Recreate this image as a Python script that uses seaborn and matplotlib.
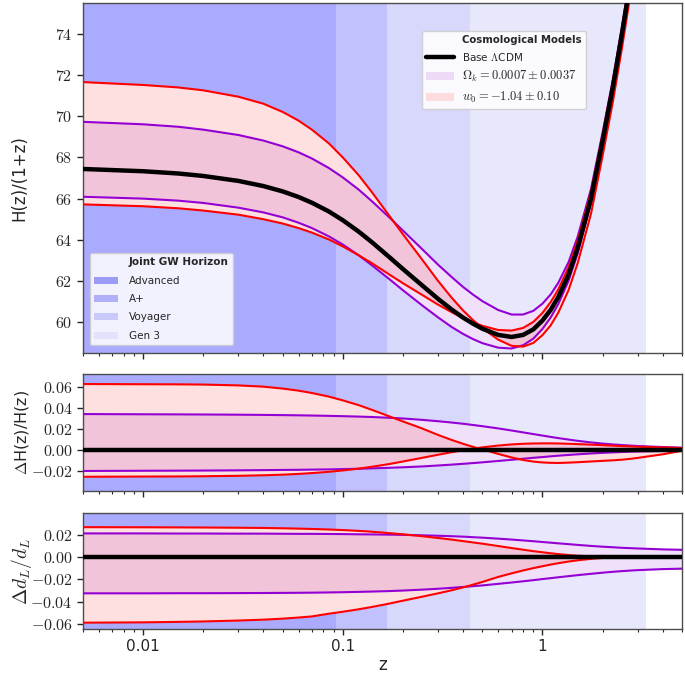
import numpy as np
import matplotlib
matplotlib.use("Agg")
import matplotlib.pyplot as plt
import seaborn as sns
from matplotlib.patches import Patch
from matplotlib.lines import Line2D
from matplotlib.ticker import FuncFormatter, LogLocator, FixedLocator, NullFormatter

# redshift grid the curves were read on
z = [0.005, 0.01, 0.015, 0.02, 0.03, 0.04, 0.05, 0.06, 0.07, 0.085, 0.1, 0.12, 0.14, 0.17, 0.2,
     0.25, 0.3, 0.35, 0.4, 0.45, 0.5, 0.6, 0.7, 0.8, 0.9, 1.0, 1.1, 1.2, 1.35, 1.5, 1.75, 2.0,
     2.25, 2.5, 2.75, 3.0, 4.0, 5.0]

# H(z)/(1+z)
h_lcdm = [67.44, 67.33, 67.22, 67.10, 66.86, 66.61, 66.35, 66.08, 65.80, 65.38, 64.95, 64.40, 63.88,
          63.18, 62.58, 61.78, 61.13, 60.62, 60.22, 59.92, 59.68, 59.38, 59.28, 59.38, 59.65, 60.08,
          60.6, 61.22, 62.3, 63.6, 66.0, 68.8, 71.4, 74.0, 76.5, 79.0, 89.0, 99.0]
h_w0_hi = [71.66, 71.52, 71.40, 71.26, 70.95, 70.61, 70.21, 69.79, 69.35, 68.69, 68.00, 67.14, 66.31,
           65.20, 64.27, 63.03, 62.00, 61.20, 60.57, 60.09, 59.71, 59.15, 58.85, 58.81, 58.99, 59.37,
           59.85, 60.46, 61.55, 62.86, 65.27, 68.08, 70.69, 73.31, 75.85, 78.40, 88.63, 98.92]
h_w0_lo = [65.72, 65.63, 65.53, 65.42, 65.22, 65.00, 64.79, 64.57, 64.35, 64.02, 63.68, 63.25, 62.86,
           62.33, 61.89, 61.32, 60.85, 60.49, 60.20, 59.99, 59.82, 59.62, 59.59, 59.72, 60.01, 60.45,
           60.98, 61.59, 62.66, 63.95, 66.33, 69.11, 71.69, 74.27, 76.75, 79.24, 89.20, 99.18]
h_ok_hi = [69.73, 69.61, 69.49, 69.35, 69.09, 68.82, 68.54, 68.25, 67.95, 67.49, 67.03, 66.44, 65.87,
           65.11, 64.45, 63.54, 62.79, 62.20, 61.71, 61.33, 61.02, 60.59, 60.37, 60.37, 60.55, 60.90,
           61.35, 61.91, 62.91, 64.15, 66.47, 69.21, 71.77, 74.34, 76.81, 79.29, 89.24, 99.21]
h_ok_lo = [66.09, 66.00, 65.90, 65.79, 65.56, 65.33, 65.09, 64.83, 64.57, 64.17, 63.77, 63.25, 62.76,
           62.11, 61.55, 60.81, 60.23, 59.77, 59.43, 59.17, 58.98, 58.76, 58.72, 58.88, 59.20, 59.67,
           60.23, 60.88, 62.00, 63.33, 65.78, 68.61, 71.23, 73.85, 76.37, 78.88, 88.91, 98.93]

# Delta H / H
dh_w0_hi = [0.0625, 0.0623, 0.0622, 0.062, 0.0612, 0.060, 0.0582, 0.0562, 0.054, 0.0506, 0.047, 0.0425,
            0.038, 0.032, 0.027, 0.0203, 0.0142, 0.0095, 0.0058, 0.0028, 0.0005, -0.0038, -0.0072,
            -0.0096, -0.0111, -0.0119, -0.0123, -0.0124, -0.0121, -0.0117, -0.011, -0.0104, -0.0099,
            -0.0093, -0.0085, -0.0076, -0.0042, -0.0008]
dh_w0_lo = [-0.0255, -0.0253, -0.0252, -0.025, -0.0246, -0.0241, -0.0235, -0.0228, -0.022, -0.0208,
            -0.0195, -0.0178, -0.016, -0.0135, -0.011, -0.0075, -0.0046, -0.0022, -0.0003, 0.0012,
            0.0024, 0.0041, 0.0052, 0.0058, 0.0061, 0.0062, 0.0062, 0.0061, 0.0058, 0.0055, 0.005,
            0.0045, 0.004, 0.0036, 0.0033, 0.003, 0.0023, 0.0018]
dh_ok_hi = [0.034, 0.0338, 0.0337, 0.0336, 0.0334, 0.0332, 0.033, 0.0328, 0.0326, 0.0323, 0.032, 0.0316,
            0.0312, 0.0305, 0.0298, 0.0285, 0.0272, 0.026, 0.0248, 0.0236, 0.0225, 0.0204, 0.0184,
            0.0166, 0.015, 0.0136, 0.0123, 0.0112, 0.0098, 0.0086, 0.0071, 0.006, 0.0052, 0.0046,
            0.0041, 0.0037, 0.0027, 0.0021]
dh_ok_lo = [-0.020, -0.0198, -0.0197, -0.0196, -0.0194, -0.0192, -0.019, -0.0189, -0.0187, -0.0185,
            -0.0182, -0.0179, -0.0175, -0.017, -0.0165, -0.0157, -0.0148, -0.014, -0.0132, -0.0125,
            -0.0118, -0.0105, -0.0094, -0.0084, -0.0075, -0.0068, -0.0061, -0.0055, -0.0048, -0.0042,
            -0.0034, -0.0028, -0.0024, -0.002, -0.0017, -0.0015, -0.001, -0.0007]

# Delta d_L / d_L
dd_w0_hi = [0.0268, 0.0267, 0.0266, 0.0265, 0.0263, 0.0261, 0.0258, 0.0255, 0.0252, 0.0247, 0.0242,
            0.0235, 0.0227, 0.0215, 0.0204, 0.0187, 0.0171, 0.0157, 0.0143, 0.0131, 0.012, 0.0099,
            0.0081, 0.0066, 0.0053, 0.0043, 0.0034, 0.0027, 0.0018, 0.0012, 0.0006, 0.0003, 0.0001,
            0.0, 0.0, 0.0, 0.0, 0.0]
dd_w0_lo = [-0.0588, -0.0585, -0.0581, -0.0577, -0.0569, -0.0561, -0.0552, -0.0542, -0.0532, -0.0508,
            -0.049, -0.0468, -0.0447, -0.0418, -0.0391, -0.0355, -0.0325, -0.0298, -0.0272, -0.0247,
            -0.0223, -0.0178, -0.0146, -0.012, -0.0099, -0.0082, -0.0067, -0.0055, -0.004, -0.0029,
            -0.0016, -0.0008, -0.0003, 0.0, 0.0001, 0.0001, 0.0001, 0.0]
dd_ok_hi = [0.0212, 0.0212, 0.0211, 0.0211, 0.021, 0.021, 0.0209, 0.0208, 0.0208, 0.0207, 0.0206,
            0.0204, 0.0203, 0.0201, 0.0199, 0.0195, 0.0191, 0.0187, 0.0183, 0.0178, 0.0174, 0.0165,
            0.0157, 0.0149, 0.0142, 0.0135, 0.0129, 0.0123, 0.0116, 0.0109, 0.01, 0.0093, 0.0088,
            0.0083, 0.008, 0.0077, 0.0069, 0.0065]
dd_ok_lo = [-0.0325, -0.0325, -0.0324, -0.0324, -0.0323, -0.0322, -0.0321, -0.032, -0.0319, -0.0317,
            -0.0315, -0.0312, -0.0309, -0.0305, -0.03, -0.0292, -0.0284, -0.0276, -0.0268, -0.0261,
            -0.0254, -0.024, -0.0228, -0.0217, -0.0207, -0.0197, -0.0189, -0.0181, -0.0171, -0.0162,
            -0.015, -0.014, -0.0132, -0.0126, -0.0121, -0.0117, -0.0108, -0.0104]

# detector reach (max redshift) and shading
detectors = ["Advanced", "A+", "Voyager", "Gen 3"]
det_zmax = [0.092, 0.166, 0.436, 3.3]
det_colors = ["#aaaaff", "#c1c1fd", "#d8d8fc", "#e8e8fd"]
det_legend_colors = ["#9c9cf6", "#b0b0f8", "#cacafa", "#e2e2fb"]

Z_MIN, Z_MAX = 0.005, 5.0

sns.set_style("ticks")
plt.rcParams["font.family"] = ["DejaVu Sans"]
plt.rcParams["mathtext.fontset"] = "cm"

fig = plt.figure(figsize=(6.85, 6.75), dpi=100)
ax_h = fig.add_axes([0.1212, 0.4770, 0.8745, 0.5185])
ax_dh = fig.add_axes([0.1212, 0.2726, 0.8745, 0.1733])
ax_dd = fig.add_axes([0.1212, 0.0681, 0.8745, 0.1719])

RED = "#ff0000"
PURPLE = "#9400d3"


def draw_panel(ax, base, w0_hi, w0_lo, ok_hi, ok_lo):
    lo = Z_MIN
    for zmax, c in zip(det_zmax, det_colors):
        ax.axvspan(lo, zmax, color=c, lw=0, zorder=0)
        lo = zmax
    zz = np.array(z)
    ax.fill_between(zz, ok_lo, ok_hi, color="white", lw=0, zorder=1)
    ax.fill_between(zz, w0_lo, w0_hi, color="white", lw=0, zorder=1)
    ax.fill_between(zz, ok_lo, ok_hi, color=PURPLE, alpha=0.12, lw=0, zorder=2)
    ax.fill_between(zz, w0_lo, w0_hi, color=RED, alpha=0.12, lw=0, zorder=2)
    for y, c in [(ok_hi, PURPLE), (ok_lo, PURPLE), (w0_hi, RED), (w0_lo, RED)]:
        sns.lineplot(x=z, y=y, ax=ax, color=c, lw=1.5, zorder=3)
    sns.lineplot(x=z, y=base, ax=ax, color="black", lw=3.2, zorder=4)
    ax.set_xscale("log")
    ax.set_xlim(Z_MIN, Z_MAX)
    ax.xaxis.set_major_locator(LogLocator(base=10))
    ax.xaxis.set_minor_locator(LogLocator(base=10, subs=np.arange(2, 10)))
    ax.xaxis.set_minor_formatter(NullFormatter())
    ax.tick_params(axis="both", which="major", direction="out", length=4, width=1, labelsize=11.5)
    ax.tick_params(axis="x", which="minor", direction="out", length=2.5, width=0.8)
    for s in ax.spines.values():
        s.set_color("#4d4d4d")
        s.set_linewidth(1.0)


zero = [0.0] * len(z)
draw_panel(ax_h, h_lcdm, h_w0_hi, h_w0_lo, h_ok_hi, h_ok_lo)
draw_panel(ax_dh, zero, dh_w0_hi, dh_w0_lo, dh_ok_hi, dh_ok_lo)
draw_panel(ax_dd, zero, dd_w0_hi, dd_w0_lo, dd_ok_hi, dd_ok_lo)

ax_h.set_ylim(58.5, 75.5)
ax_h.yaxis.set_major_locator(FixedLocator([60, 62, 64, 66, 68, 70, 72, 74]))
ax_h.yaxis.set_major_formatter(FuncFormatter(lambda v, p: f"${v:.0f}$"))
ax_h.set_ylabel("H(z)/(1+z)", fontsize=12, labelpad=19)

ax_dh.set_ylim(-0.039, 0.072)
ax_dh.yaxis.set_major_locator(FixedLocator([-0.02, 0.0, 0.02, 0.04, 0.06]))
ax_dh.yaxis.set_major_formatter(FuncFormatter(lambda v, p: f"${v:.2f}$"))
ax_dh.set_ylabel("$\\Delta$H(z)/H(z)", fontsize=11.5, labelpad=0)

ax_dd.set_ylim(-0.0645, 0.0395)
ax_dd.yaxis.set_major_locator(FixedLocator([-0.06, -0.04, -0.02, 0.0, 0.02]))
ax_dd.yaxis.set_major_formatter(FuncFormatter(lambda v, p: f"${v:.2f}$"))
ax_dd.set_ylabel("$\\Delta d_L/d_L$", fontsize=14, labelpad=-3)

for ax in (ax_h, ax_dh):
    ax.set_xticklabels([])
    ax.set_xlabel("")
ax_dd.xaxis.set_major_formatter(FuncFormatter(lambda v, p: f"{v:g}"))
ax_dd.tick_params(axis="x", labelsize=11)
ax_dd.set_xlabel("z", fontsize=12, labelpad=1)

# legends: the heading sits in the label column, on a row with an empty handle
blank = Line2D([], [], color="none")
model_handles = [
    blank,
    Line2D([], [], color="black", lw=3.2),
    Patch(facecolor="#eedaf6", edgecolor="none"),
    Patch(facecolor="#fbdcdf", edgecolor="none"),
]
model_labels = ["Cosmological Models", "Base $\\Lambda$CDM",
                "$\\Omega_k = 0.0007 \\pm 0.0037$", "$w_0 = -1.04 \\pm 0.10$"]
leg1 = ax_h.legend(model_handles, model_labels, loc="upper right",
                   bbox_to_anchor=(0.8397, 0.92), borderaxespad=0, fontsize=7.5,
                   handlelength=2.7, handletextpad=0.8, labelspacing=0.55,
                   framealpha=0.85, fancybox=True)
texts = leg1.get_texts()
texts[0].set_fontweight("bold")
texts[0].set_fontsize(7.3)
for t in texts[2:]:
    t.set_fontsize(9)
ax_h.add_artist(leg1)

det_handles = [Line2D([], [], color="none")] + [Patch(facecolor=c, edgecolor="none") for c in det_legend_colors]
leg2 = ax_h.legend(det_handles, ["Joint GW Horizon"] + detectors, loc="lower left",
                   bbox_to_anchor=(0.0117, 0.023), borderaxespad=0, fontsize=7.5,
                   handlelength=2.3, handletextpad=1.0, labelspacing=0.8,
                   framealpha=0.85, fancybox=True)
leg2.get_texts()[0].set_fontweight("bold")

fig.savefig("out.png", dpi=100)
